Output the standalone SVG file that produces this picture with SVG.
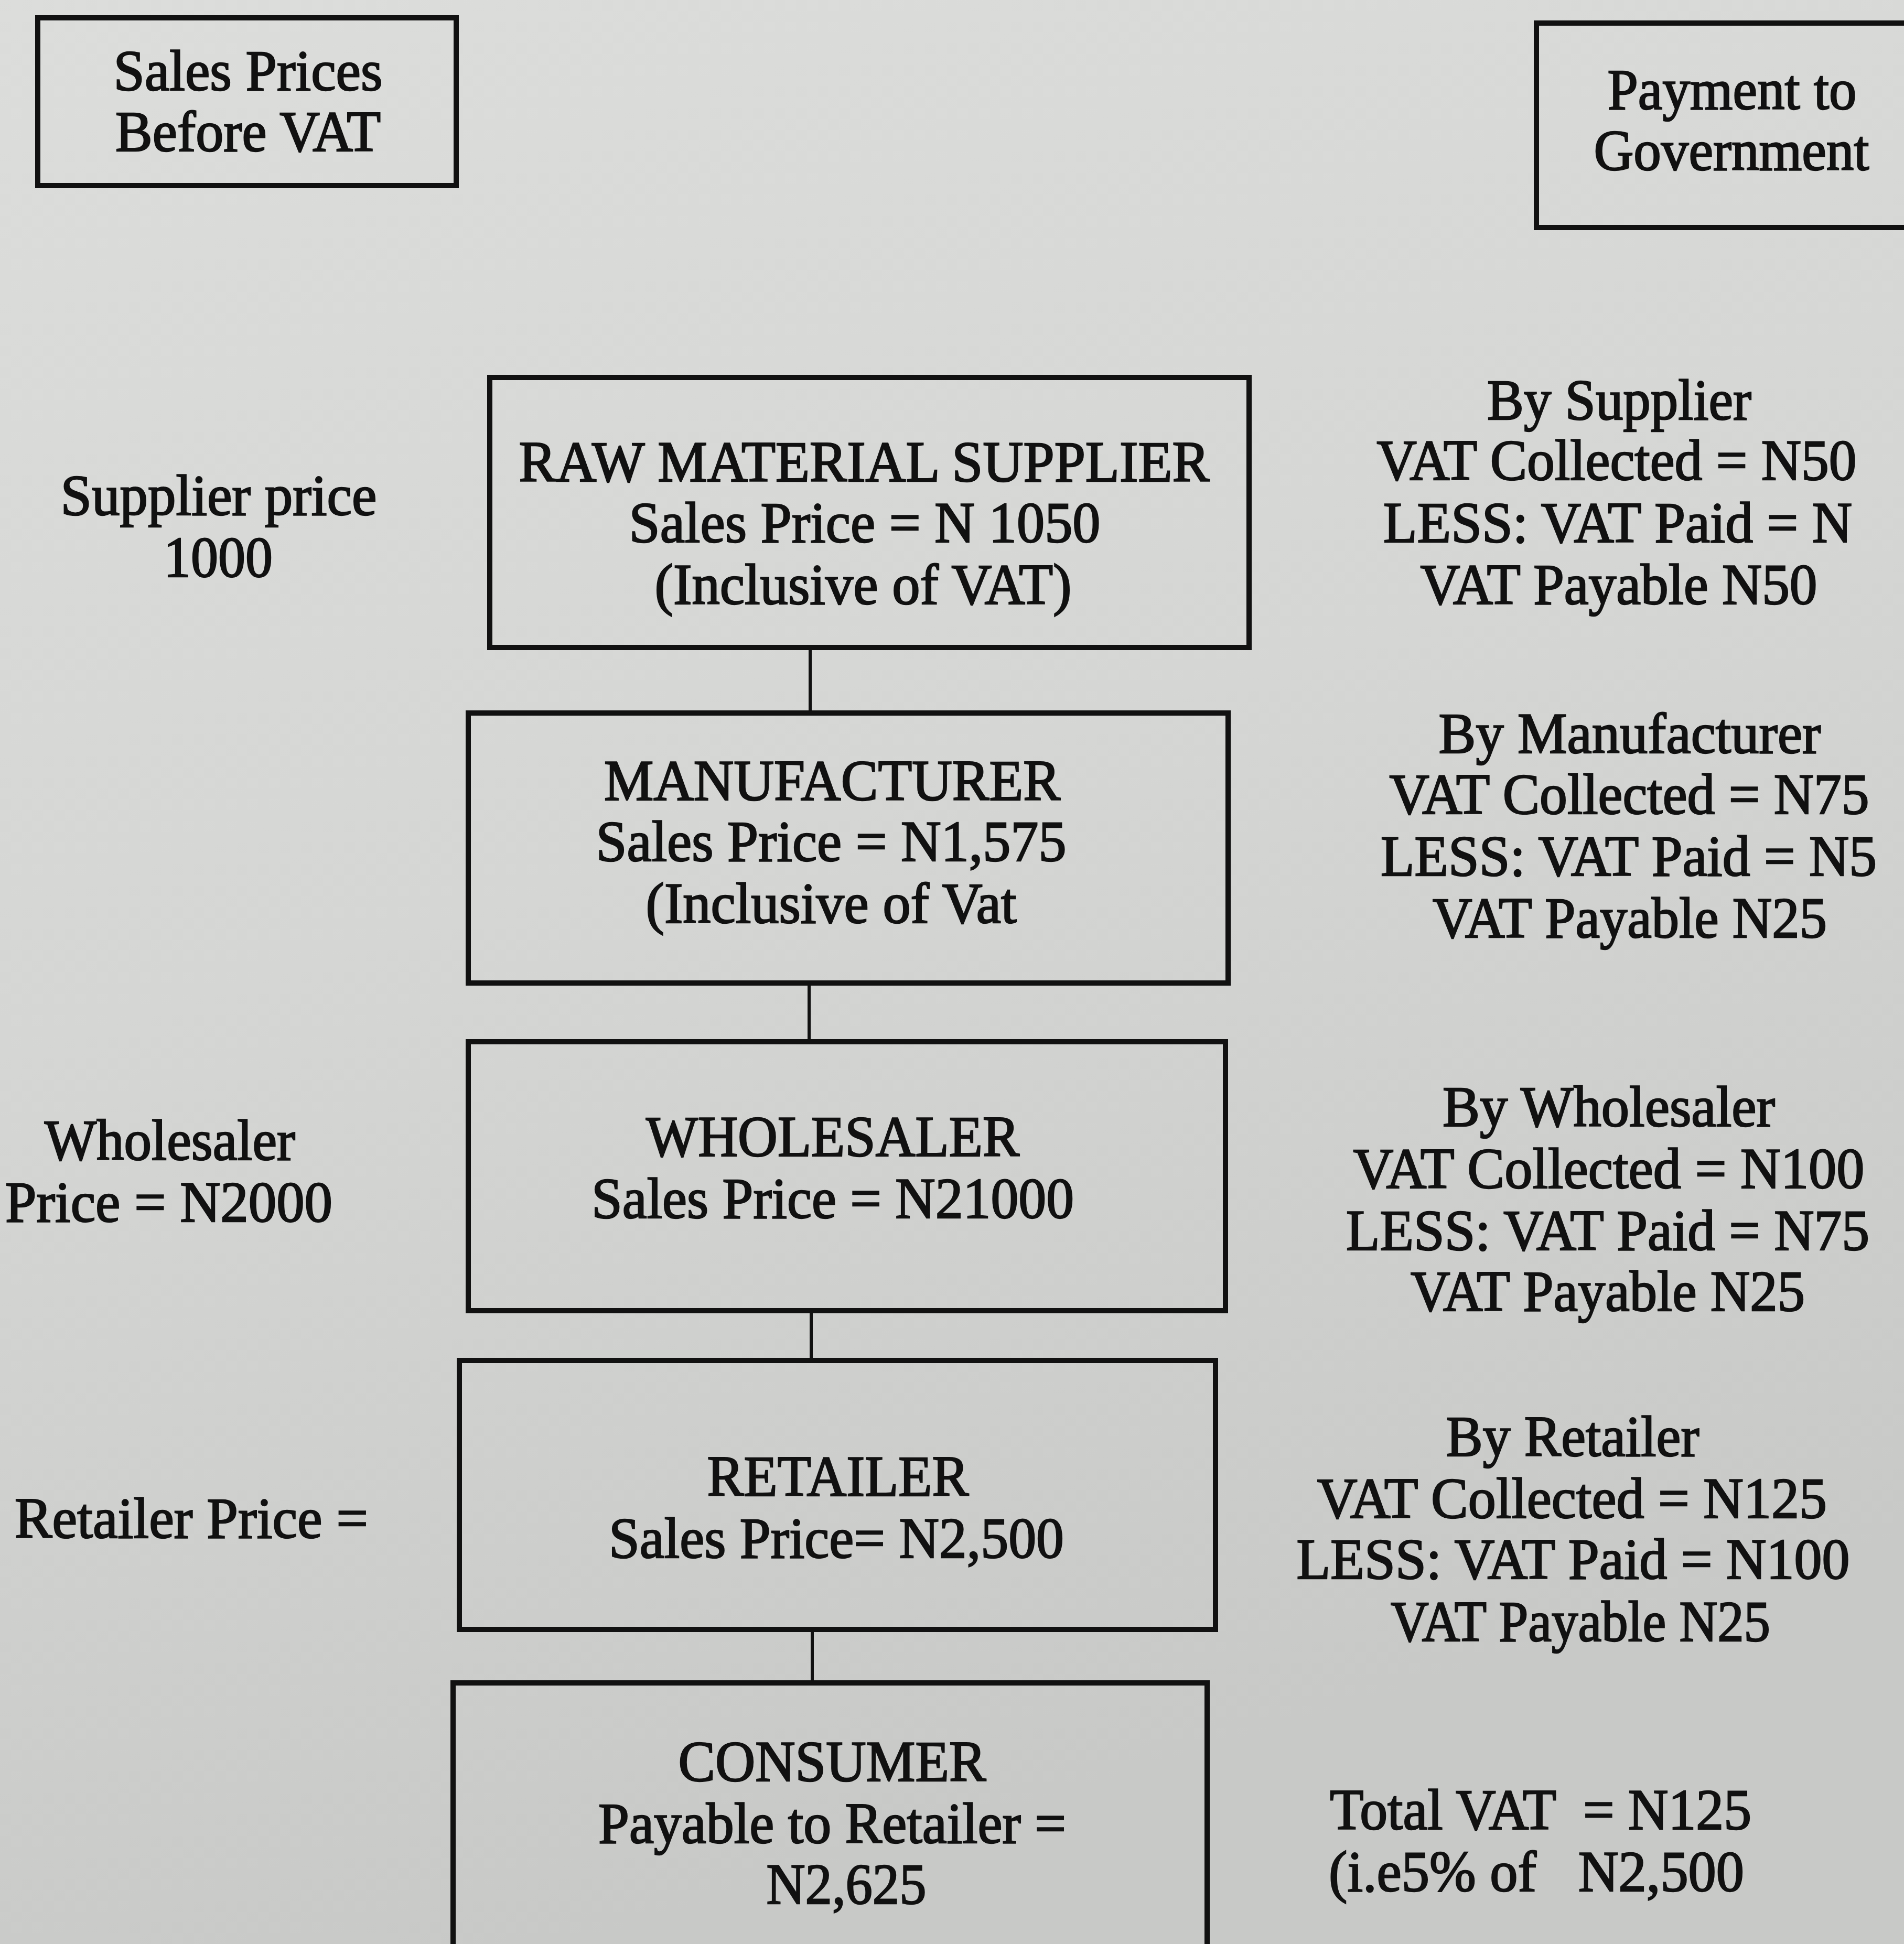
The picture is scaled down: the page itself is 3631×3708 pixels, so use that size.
<svg xmlns="http://www.w3.org/2000/svg" width="3631" height="3708" viewBox="0 0 3631 3708">
<defs>
<linearGradient id="bg" x1="0" y1="0" x2="0.3" y2="1">
<stop offset="0" stop-color="#dcdddb"/>
<stop offset="0.5" stop-color="#d5d6d4"/>
<stop offset="1" stop-color="#c8c9c7"/>
</linearGradient>
<style>
.box{fill:none;stroke:#111;stroke-width:10}
.conn{stroke:#111;stroke-width:6;fill:none}
text{font-family:"Liberation Serif","Times New Roman",serif;font-size:110px;fill:#111;stroke:#111;stroke-width:2.5;text-anchor:middle}
</style>
</defs>
<rect x="0" y="0" width="3631" height="3708" fill="url(#bg)"/>

<g id="connectors">
<line class="conn" x1="1545" y1="1235" x2="1545" y2="1360"/>
<line class="conn" x1="1543" y1="1876" x2="1543" y2="1987"/>
<line class="conn" x1="1547" y1="2500" x2="1547" y2="2595"/>
<line class="conn" x1="1549" y1="3108" x2="1549" y2="3210"/>
</g>

<g id="sales-prices-header">
<rect class="box" x="72" y="34" width="798" height="320"/>
<text x="473" y="172" textLength="513" lengthAdjust="spacingAndGlyphs">Sales Prices</text>
<text x="473" y="288" textLength="506" lengthAdjust="spacingAndGlyphs">Before VAT</text>
</g>

<g id="payment-header">
<rect class="box" x="2930" y="44" width="760" height="390"/>
<text x="3303" y="208" textLength="475" lengthAdjust="spacingAndGlyphs">Payment to</text>
<text x="3302" y="324" textLength="525" lengthAdjust="spacingAndGlyphs">Government</text>
</g>

<g id="raw-material-supplier">
<rect class="box" x="934" y="720" width="1448" height="515"/>
<text x="1648" y="918" textLength="1317" lengthAdjust="spacingAndGlyphs">RAW MATERIAL SUPPLIER</text>
<text x="1649" y="1034" textLength="899" lengthAdjust="spacingAndGlyphs">Sales Price = N 1050</text>
<text x="1646" y="1152" textLength="795" lengthAdjust="spacingAndGlyphs">(Inclusive of VAT)</text>
</g>

<g id="manufacturer">
<rect class="box" x="893" y="1360" width="1449" height="515"/>
<text x="1587" y="1526" textLength="870" lengthAdjust="spacingAndGlyphs">MANUFACTURER</text>
<text x="1585" y="1642" textLength="897" lengthAdjust="spacingAndGlyphs">Sales Price = N1,575</text>
<text x="1585" y="1760" textLength="707" lengthAdjust="spacingAndGlyphs">(Inclusive of Vat</text>
</g>

<g id="wholesaler">
<rect class="box" x="893" y="1987" width="1444" height="513"/>
<text x="1588" y="2205" textLength="712" lengthAdjust="spacingAndGlyphs">WHOLESALER</text>
<text x="1588" y="2323" textLength="920" lengthAdjust="spacingAndGlyphs">Sales Price = N21000</text>
</g>

<g id="retailer">
<rect class="box" x="876" y="2595" width="1442" height="513"/>
<text x="1598" y="2853" textLength="499" lengthAdjust="spacingAndGlyphs">RETAILER</text>
<text x="1595" y="2971" textLength="868" lengthAdjust="spacingAndGlyphs">Sales Price= N2,500</text>
</g>

<g id="consumer">
<rect class="box" x="864" y="3210" width="1438" height="560"/>
<text x="1587" y="3397" textLength="587" lengthAdjust="spacingAndGlyphs">CONSUMER</text>
<text x="1587" y="3515" textLength="892" lengthAdjust="spacingAndGlyphs">Payable to Retailer =</text>
<text x="1614" y="3631" textLength="305" lengthAdjust="spacingAndGlyphs">N2,625</text>
</g>

<g id="left-supplier-price">
<text x="417" y="982" textLength="603" lengthAdjust="spacingAndGlyphs">Supplier price</text>
<text x="416" y="1100" textLength="208" lengthAdjust="spacingAndGlyphs">1000</text>
</g>

<g id="left-wholesaler-price">
<text x="324" y="2212" textLength="478" lengthAdjust="spacingAndGlyphs">Wholesaler</text>
<text x="322" y="2330" textLength="624" lengthAdjust="spacingAndGlyphs">Price = N2000</text>
</g>

<g id="left-retailer-price">
<text x="365" y="2933" textLength="674" lengthAdjust="spacingAndGlyphs">Retailer Price =</text>
</g>

<g id="right-supplier">
<text x="3088" y="800" textLength="504" lengthAdjust="spacingAndGlyphs">By Supplier</text>
<text x="3083" y="915" textLength="915" lengthAdjust="spacingAndGlyphs">VAT Collected = N50</text>
<text x="3085" y="1034" textLength="894" lengthAdjust="spacingAndGlyphs">LESS: VAT Paid = N</text>
<text x="3087" y="1152" textLength="757" lengthAdjust="spacingAndGlyphs">VAT Payable N50</text>
</g>

<g id="right-manufacturer">
<text x="3108" y="1436" textLength="729" lengthAdjust="spacingAndGlyphs">By Manufacturer</text>
<text x="3107" y="1552" textLength="915" lengthAdjust="spacingAndGlyphs">VAT Collected = N75</text>
<text x="3106" y="1670" textLength="946" lengthAdjust="spacingAndGlyphs">LESS: VAT Paid = N5</text>
<text x="3108" y="1788" textLength="752" lengthAdjust="spacingAndGlyphs">VAT Payable N25</text>
</g>

<g id="right-wholesaler">
<text x="3068" y="2148" textLength="634" lengthAdjust="spacingAndGlyphs">By Wholesaler</text>
<text x="3068" y="2266" textLength="975" lengthAdjust="spacingAndGlyphs">VAT Collected = N100</text>
<text x="3066" y="2384" textLength="998" lengthAdjust="spacingAndGlyphs">LESS: VAT Paid = N75</text>
<text x="3066" y="2500" textLength="752" lengthAdjust="spacingAndGlyphs">VAT Payable N25</text>
</g>

<g id="right-retailer">
<text x="2999" y="2777" textLength="483" lengthAdjust="spacingAndGlyphs">By Retailer</text>
<text x="2998" y="2895" textLength="972" lengthAdjust="spacingAndGlyphs">VAT Collected = N125</text>
<text x="3000" y="3011" textLength="1055" lengthAdjust="spacingAndGlyphs">LESS: VAT Paid = N100</text>
<text x="3014" y="3130" textLength="724" lengthAdjust="spacingAndGlyphs">VAT Payable N25</text>
</g>

<g id="right-total">
<text x="2938" y="3489" textLength="804" lengthAdjust="spacingAndGlyphs" xml:space="preserve">Total VAT  = N125</text>
<text x="2930" y="3607" textLength="792" lengthAdjust="spacingAndGlyphs" xml:space="preserve">(i.e5% of   N2,500</text>
</g>
</svg>
